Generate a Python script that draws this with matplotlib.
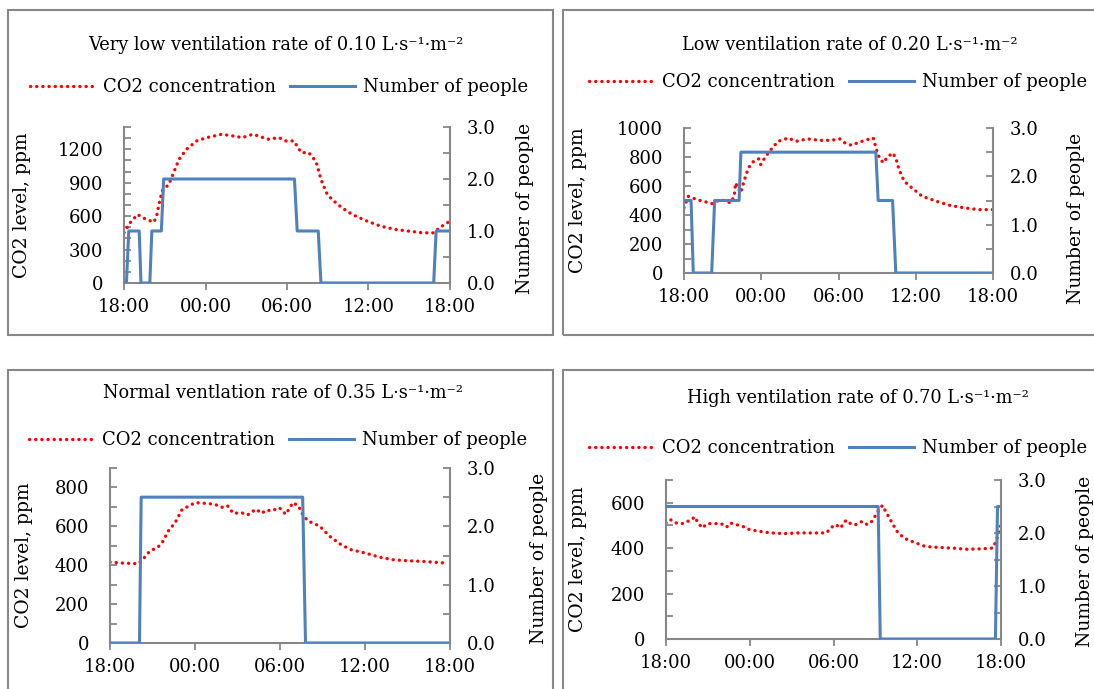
import matplotlib
matplotlib.use('Agg')
import matplotlib.pyplot as plt
from matplotlib.patches import Rectangle
from matplotlib.ticker import MultipleLocator

plt.rcParams['font.family'] = ['DejaVu Serif']

# ---- data (hours after 18:00) ----
hour_ticks = [0, 6, 12, 18, 24]
hour_labels = ['18:00', '00:00', '06:00', '12:00', '18:00']

titles = ['Very low ventilation rate of 0.10 L·s⁻¹·m⁻²',
          'Low ventilation rate of 0.20 L·s⁻¹·m⁻²',
          'Normal ventlation rate of 0.35 L·s⁻¹·m⁻²',
          'High ventilation rate of 0.70 L·s⁻¹·m⁻²']

co2_hours_1 = [0, 0.4, 1.0, 1.4, 1.8, 2.2, 2.4, 2.6, 2.8, 3.3, 3.65, 4.05, 4.6, 5.35, 6.1, 7.2, 8.0,
               8.7, 9.5, 10.6, 11.4, 11.9, 12.5, 13.05, 13.6, 14.0, 14.2, 14.5, 14.9, 15.3, 16.05,
               16.8, 17.9, 18.9, 20.0, 21.0, 22.05, 22.85, 23.2, 24]
co2_ppm_1 = [450, 534, 615, 585, 564, 546, 600, 720, 825, 885, 990, 1110, 1200, 1275, 1305, 1335, 1320,
             1305, 1335, 1290, 1305, 1275, 1275, 1170, 1170, 1110, 1065, 930, 810, 750, 675,
             615, 555, 510, 480, 465, 450, 450, 495, 555]
people_hours_1 = [0, 0.18, 0.35, 1.12, 1.25, 1.9, 2.05, 2.75, 2.92, 12.55, 12.75, 14.3, 14.5, 22.8, 22.98, 24]
people_count_1 = [0, 0, 1, 1, 0, 0, 1, 1, 2, 2, 1, 1, 0, 0, 1, 1]

co2_hours_2 = [0, 0.33, 1.0, 1.7, 2.2, 2.8, 3.3, 3.6, 3.9, 4.0, 4.4, 4.7, 5.0, 5.4, 5.8, 5.95, 6.35,
               6.75, 7.3, 8.1, 8.7, 9.6, 10.55, 11.4, 12.1, 12.5, 13.0, 13.6, 14.25, 14.7, 14.95,
               15.2, 15.5, 15.75, 16.2, 16.45, 16.7, 17.1, 17.7, 18.5, 19.6, 20.7, 21.8, 22.9, 24]
co2_ppm_2 = [450, 529, 506, 490, 478, 506, 495, 483, 529, 621, 552, 644, 725, 770, 787, 748, 805,
             851, 908, 931, 908, 925, 915, 915, 925, 897, 881, 902, 920, 931, 851,
             787, 760, 794, 828, 794, 713, 633, 587, 529, 495, 465, 449, 437, 437]
people_hours_2 = [0, 0.55, 0.72, 2.15, 2.38, 4.28, 4.42, 14.9, 15.08, 16.2, 16.45, 24]
people_count_2 = [1.5, 1.5, 0, 0, 1.5, 1.5, 2.5, 2.5, 1.5, 1.5, 0, 0]

co2_hours_3 = [0, 0.9, 2.0, 2.4, 2.8, 3.4, 3.75, 4.1, 4.6, 5.1, 5.6, 6.0, 6.6, 7.35, 8.0, 8.3, 8.7,
               9.3, 9.7, 10.3, 10.7, 11.05, 11.4, 11.95, 12.4, 12.7, 12.9, 13.3, 13.65, 14.0, 14.8,
               15.5, 16.3, 17.0, 18.0, 19.0, 20.0, 21.0, 22.0, 23.0, 23.7]
co2_ppm_3 = [416, 411, 408, 437, 472, 494, 524, 575, 619, 688, 705, 722, 719, 714, 696, 705, 667,
             670, 658, 688, 667, 684, 679, 696, 662, 696, 722, 705, 653, 627, 601,
             549, 506, 480, 463, 442, 428, 423, 420, 415, 411]
people_hours_3 = [0, 2.08, 2.2, 13.6, 13.8, 24]
people_count_3 = [0, 0, 2.5, 2.5, 0, 0]

co2_hours_4 = [0, 0.3, 0.7, 1.2, 1.55, 1.8, 2.05, 2.3, 2.6, 2.95, 3.45, 3.95, 4.35, 4.6, 5.0, 5.5,
               6.0, 6.7, 7.5, 8.5, 9.5, 10.5, 11.5, 11.8, 12.15, 12.5, 12.9, 13.3, 13.65, 14.05,
               14.4, 14.7, 14.9, 15.2, 15.5, 15.8, 16.2, 16.55, 17.05, 17.8, 18.6, 19.6, 20.6,
               21.6, 22.6, 23.4, 23.65, 23.9, 24.1]
co2_ppm_4 = [511, 526, 511, 508, 518, 523, 538, 511, 489, 508, 508, 508, 493, 511, 504, 496,
             481, 474, 467, 464, 467, 467, 467, 489, 504, 489, 523, 504, 504, 518,
             504, 514, 533, 563, 588, 555, 511, 474, 444, 425, 407, 403, 400,
             395, 397, 400, 430, 481, 526]
people_hours_4 = [0, 15.2, 15.35, 23.6, 23.75, 24]
people_count_4 = [2.5, 2.5, 0, 0, 2.5, 2.5]

co2_max = [1400, 1000, 900, 700]
co2_major = [300, 200, 200, 200]

# ---- layout (pixels of a 1094 x 689 picture) ----
W, H = 1094, 689
GREY = '#878787'
RED = '#FF0000'
BLUE = '#4F81BD'
FS = 13

fig = plt.figure(figsize=(W / 100, H / 100), dpi=100)
fig.patch.set_facecolor('white')


def fx(x):
    return x / W


def fy(y):
    return 1 - y / H


# panel boxes (left, top, right, bottom)
boxes = [(8, 10, 553, 335), (563, 10, 1100, 335), (8, 370, 553, 700), (563, 370, 1100, 700)]
# plot areas (left, top, right, bottom)
areas = [(124, 127, 450, 283), (684, 128, 993, 273), (110, 468, 450, 643), (666, 480, 1001, 639)]
title_pos = [(276, 45), (850, 45), (283, 393), (858, 398)]
legend_pos = [(279, 87), (838, 82), (278, 440), (838, 448)]
ylab_left = [31, 587, 33, 587]
ylab_right = [(516, 208), (1067, 218), (530, 558), (1076, 561)]

co2_hours = [co2_hours_1, co2_hours_2, co2_hours_3, co2_hours_4]
co2_ppm = [co2_ppm_1, co2_ppm_2, co2_ppm_3, co2_ppm_4]
people_hours = [people_hours_1, people_hours_2, people_hours_3, people_hours_4]
people_count = [people_count_1, people_count_2, people_count_3, people_count_4]

for i in range(4):
    bx0, by0, bx1, by1 = boxes[i]
    fig.add_artist(Rectangle((fx(bx0), fy(by1)), fx(bx1 - bx0), (by1 - by0) / H,
                             transform=fig.transFigure, fill=False, edgecolor=GREY, lw=1.5))

    l, t, r, b = areas[i]
    ax = fig.add_axes([fx(l), fy(b), fx(r - l), (b - t) / H])
    ax2 = ax.twinx()

    red_line, = ax.plot(co2_hours[i], co2_ppm[i], color=RED, lw=2.4,
                        ls=(0, (0.05, 1.8)), dash_capstyle='round', label='CO2 concentration')
    blue_line, = ax2.plot(people_hours[i], people_count[i], color=BLUE, lw=2.2, label='Number of people')

    ax.set_xlim(0, 24)
    ax.set_ylim(0, co2_max[i])
    ax2.set_ylim(0, 3)
    ax.set_xticks(hour_ticks)
    ax.set_xticklabels(hour_labels)
    ax.yaxis.set_major_locator(MultipleLocator(co2_major[i]))
    ax.yaxis.set_minor_locator(MultipleLocator(100))
    ax2.yaxis.set_major_locator(MultipleLocator(1))
    ax2.yaxis.set_minor_locator(MultipleLocator(0.5))
    ax2.yaxis.set_major_formatter(lambda v, p: f'{v:.1f}')

    for a in (ax, ax2):
        a.patch.set_visible(False)
        a.spines['top'].set_visible(False)
        for s in ('left', 'right', 'bottom'):
            a.spines[s].set_color(GREY)
            a.spines[s].set_linewidth(1.5)
        a.tick_params(axis='y', which='both', direction='in', length=5, width=1.3,
                      color=GREY, labelsize=FS, pad=12)
    ax.tick_params(axis='y', which='both', pad=15)
    ax.spines['right'].set_visible(False)
    ax2.spines['left'].set_visible(False)
    ax2.spines['bottom'].set_visible(False)
    ax.tick_params(axis='x', direction='out', length=5, width=1.3, color=GREY, labelsize=FS, pad=6)

    ax.set_ylabel('CO2 level, ppm', fontsize=FS + 0.5)
    ax.yaxis.set_label_coords((ylab_left[i] - l) / (r - l), 0.5)
    rx, ry = ylab_right[i]
    ax2.set_ylabel('Number of people', fontsize=FS + 0.5, rotation=90)
    ax2.yaxis.set_label_coords((rx - l) / (r - l), (b - ry) / (b - t))

    tx, ty = title_pos[i]
    fig.text(fx(tx), fy(ty), titles[i], ha='center', va='center', fontsize=FS - 0.2)

    lx, ly = legend_pos[i]
    fig.legend([red_line, blue_line], ['CO2 concentration', 'Number of people'],
               loc='center', bbox_to_anchor=(fx(lx), fy(ly)), ncol=2, frameon=False,
               fontsize=FS, handlelength=3.6, handletextpad=0.45, columnspacing=0.8)

fig.savefig('out.png', dpi=100, facecolor='white')
